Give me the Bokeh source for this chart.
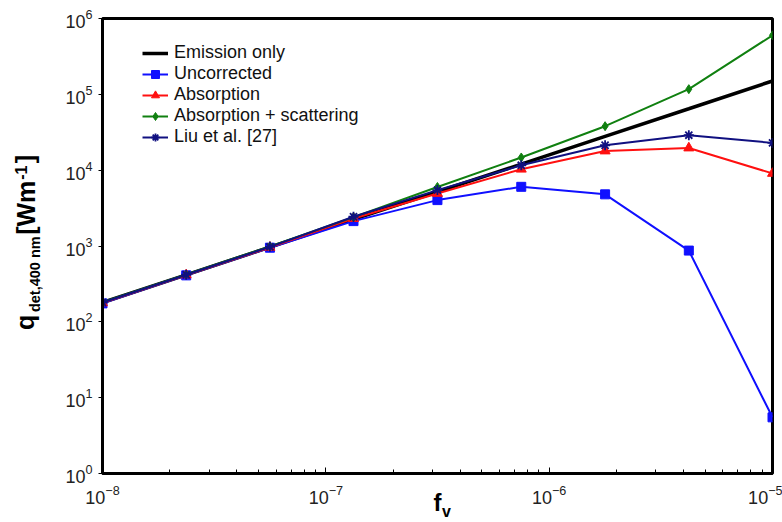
from bokeh.embed import file_html
from bokeh.models import FixedTicker, Legend, LegendItem, LogAxis, LogTicker
from bokeh.plotting import figure
from bokeh.resources import INLINE

# Soot volume fraction and detected line intensity at 400 nm
fv = [1.0e-8, 2.37e-8, 5.62e-8, 1.33e-7, 3.16e-7, 7.5e-7, 1.78e-6, 4.22e-6, 1.0e-5]

emission_only = [180, 417, 966, 2240, 5190, 12000, 27900, 64600, 150000]
uncorrected = [175, 410, 950, 2130, 4030, 6030, 4800, 870, 5.5]
absorption = [178, 415, 960, 2300, 4930, 10300, 17900, 19600, 9060]
absorption_scattering = [182, 420, 990, 2400, 6000, 14700, 38000, 117000, 600000]
liu_et_al = [180, 418, 975, 2430, 5460, 11600, 21300, 28900, 22900]

series_labels = ["Emission only", "Uncorrected", "Absorption",
                 "Absorption + scattering", "Liu et al. [27]"]

FONT = "Liberation Sans"
W, H = 782, 522
LEFT, BOTTOM = 102, 48          # frame borders in px
NBSP = "\u00a0"

p = figure(
    width=W, height=H,
    x_axis_type="log", y_axis_type="log",
    x_range=(1e-8, 1e-5), y_range=(1, 1e6),
    output_backend="svg", toolbar_location=None,
    min_border_left=LEFT, min_border_right=10,
    min_border_top=18, min_border_bottom=BOTTOM,
)
p.grid.visible = False
p.outline_line_color = "black"
p.outline_line_width = 3
p.background_fill_color = "white"
p.border_fill_color = "white"

# axes
for ax in (p.xaxis[0], p.yaxis[0]):
    ax.axis_line_width = 3
    ax.axis_line_color = "black"
    ax.major_label_text_font = FONT
    ax.major_label_text_font_size = "18px"
    ax.major_label_text_color = "#222222"
    ax.major_tick_line_color = "black"
    ax.major_tick_line_width = 1

p.xaxis.ticker = LogTicker(desired_num_ticks=4, num_minor_ticks=10)
p.xaxis.major_tick_in = 6
p.xaxis.major_tick_out = 0
p.xaxis.minor_tick_in = 4
p.xaxis.minor_tick_out = 0
p.xaxis.minor_tick_line_color = "black"
p.xaxis.major_label_standoff = 11

p.yaxis.ticker = LogTicker(desired_num_ticks=7)
p.yaxis.major_tick_in = 0
p.yaxis.major_tick_out = 4
p.yaxis.minor_tick_line_color = None
p.yaxis.major_label_standoff = 6

# series
r_em = p.line(fv, emission_only, line_color="black", line_width=3.5)

r_un = p.line(fv, uncorrected, line_color="#1010ff", line_width=2)
s_un = p.scatter(fv, uncorrected, marker="square", size=9,
                 fill_color="#1010ff", line_color="#1010ff")

r_ab = p.line(fv, absorption, line_color="#ff1010", line_width=2)
s_ab = p.scatter(fv, absorption, marker="triangle", size=10,
                 fill_color="#ff1010", line_color="#ff1010")

r_as = p.line(fv, absorption_scattering, line_color="#108010", line_width=2)
s_as = p.scatter(fv, absorption_scattering, marker="diamond", size=9,
                 fill_color="#108010", line_color="#108010")

r_li = p.line(fv, liu_et_al, line_color="#101080", line_width=2)
s_li = p.scatter(fv, liu_et_al, marker="asterisk", size=10,
                 line_color="#101080", line_width=1.8)

legend = Legend(
    items=[
        LegendItem(label=series_labels[0], renderers=[r_em]),
        LegendItem(label=series_labels[1], renderers=[r_un, s_un]),
        LegendItem(label=series_labels[2], renderers=[r_ab, s_ab]),
        LegendItem(label=series_labels[3], renderers=[r_as, s_as]),
        LegendItem(label=series_labels[4], renderers=[r_li, s_li]),
    ],
    location=(40, 326),
    orientation="vertical",
    background_fill_alpha=0,
    border_line_color=None,
    label_text_font=FONT,
    label_text_font_size="18px",
    label_text_color="#111111",
    label_standoff=6,
    glyph_width=26,
    glyph_height=20,
    label_height=20,
    spacing=0,
    padding=0,
    margin=0,
)
p.add_layout(legend)

# --- axis titles -----------------------------------------------------------
# Each title piece is the label of a tick-less axis, so sub- and superscripts
# remain real text.  Pieces are shifted along the axis with no-break spaces
# and across it with the label standoff.
ASC, DESC = 0.905, 0.212        # Liberation Sans ascent / descent (em)
SPACE = 0.278                   # width of a space (em)
PAD = 3.7                       # extra room Bokeh keeps after an axis label


def title_axis(side, text, size, em_width, start, baseline, extent):
    """start: canvas px where the text begins; baseline: canvas px of its
    baseline; extent: px already used in the side panel. Returns new extent."""
    if side == "left":
        frame_mid = (18 + (H - BOTTOM)) / 2
        center = start - em_width * size / 2          # text runs upward
        shift = frame_mid - center                    # >0: move up
        edge = LEFT - extent                          # panel boundary (x)
        standoff = round(edge - (baseline + DESC * size))
    else:
        frame_mid = (LEFT + (W - 10)) / 2
        center = start + em_width * size / 2
        shift = center - frame_mid                    # >0: move right
        edge = (H - BOTTOM) + extent                  # panel boundary (y)
        standoff = round((baseline - ASC * size) - edge)
    n = round(abs(2 * shift) / (SPACE * size))
    padded = NBSP * n + text if shift > 0 else text + NBSP * n
    axis = LogAxis(
        ticker=FixedTicker(ticks=[], minor_ticks=[]),
        axis_line_color=None, major_tick_line_color=None,
        minor_tick_line_color=None, major_tick_in=0, major_tick_out=0,
        minor_tick_in=0, minor_tick_out=0, major_label_standoff=0,
        axis_label=padded, axis_label_standoff=standoff,
        axis_label_text_font=FONT, axis_label_text_font_style="bold",
        axis_label_text_font_size=f"{size}px",
        axis_label_text_color="black",
    )
    p.add_layout(axis, side)
    return extent + standoff + (ASC + DESC) * size + PAD


# y title: q_{det,400 nm} [Wm^{-1}]
ext = 36
ext = title_axis("left", "det,400 nm", 14.5, 5.224, 312, 43, ext)
ext = title_axis("left", "q", 25, 0.611, 329, 36, ext)
ext = title_axis("left", "[Wm", 25, 2.166, 234, 36, ext)
ext = title_axis("left", "]", 25, 0.333, 163, 36, ext)
ext = title_axis("left", "-1", 16, 0.889, 179, 28, ext)

# x title: f_v
ext = 34.5
ext = title_axis("below", "v", 16, 0.556, 442, 519, ext)
ext = title_axis("below", "f", 24, 0.333, 434, 514, ext)

open("out.html", "w").write(file_html(p, INLINE))
